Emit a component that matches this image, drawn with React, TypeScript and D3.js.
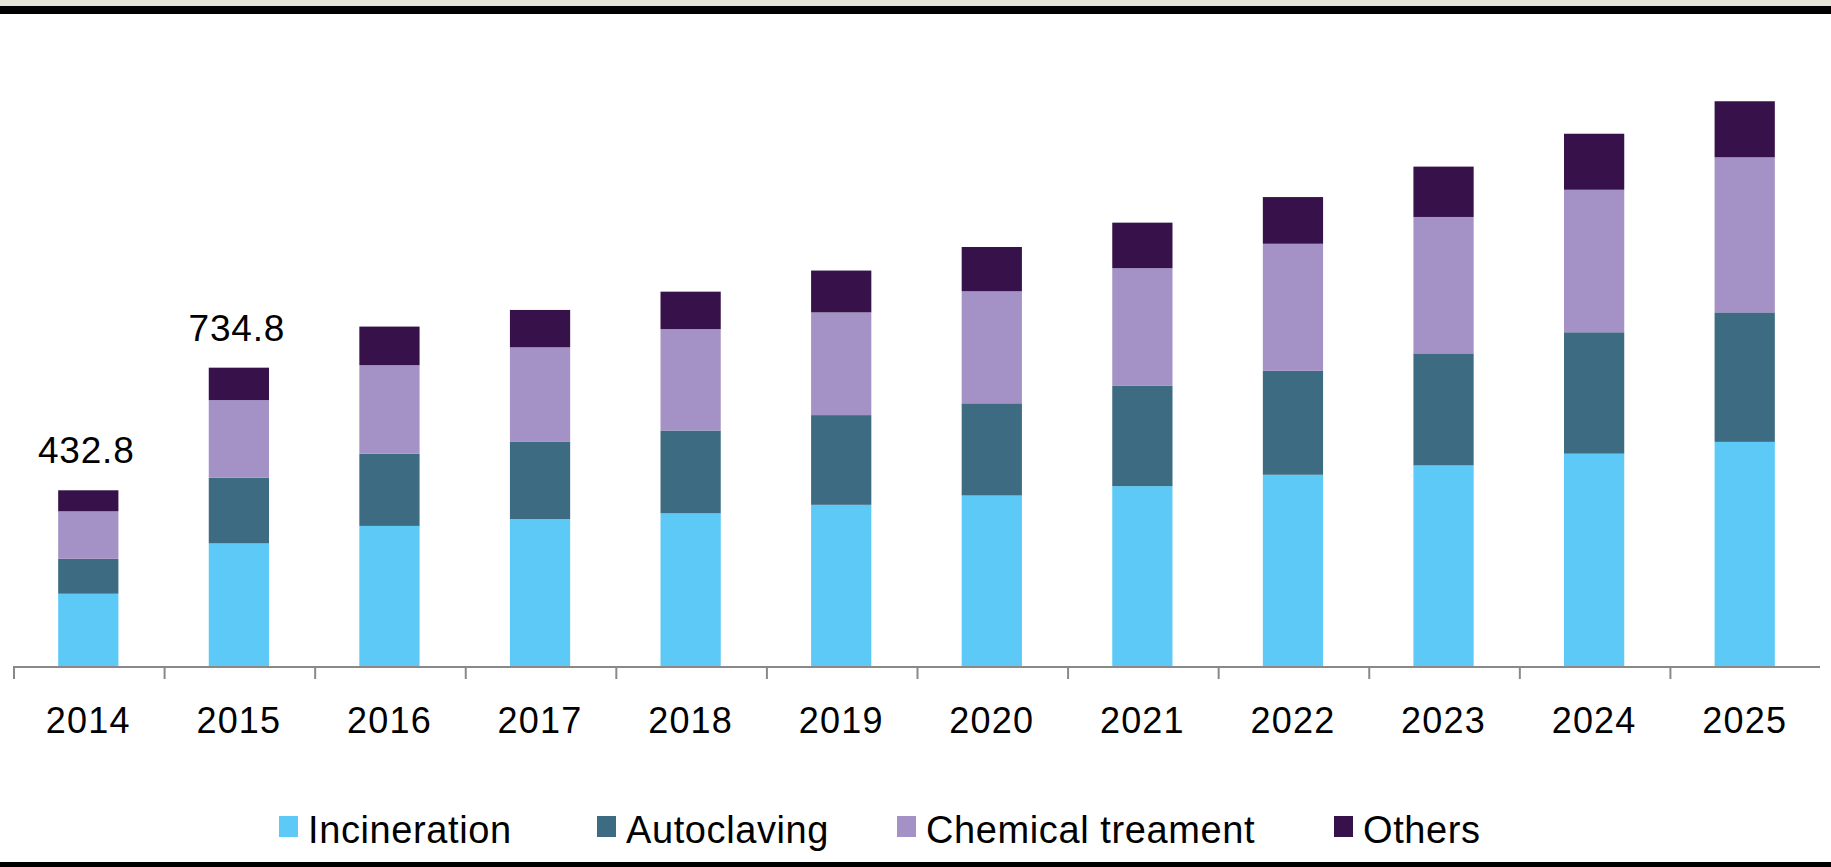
import React, { useEffect, useRef } from 'react'
import * as d3 from 'd3'

const years = ['2014', '2015', '2016', '2017', '2018', '2019', '2020', '2021', '2022', '2023', '2024', '2025']
const seriesNames = ['Incineration', 'Autoclaving', 'Chemical treament', 'Others']
const incineration = [178, 302, 345, 362, 376, 397, 420, 443, 471, 494, 523, 552]
const autoclaving = [86, 162, 178, 190, 204, 221, 227, 247, 256, 276, 299, 319]
const chemical = [117, 191, 218, 233, 250, 253, 276, 290, 313, 336, 351, 382]
const others = [51.8, 79.8, 95, 92, 92, 103, 109, 112, 115, 124, 138, 138]
const labelYears = ['2014', '2015']
const labelTexts = ['432.8', '734.8']

const colors = ['#5dc9f6', '#3d6b82', '#a491c5', '#37114a']

export default function App() {
  const svgRef = useRef<SVGSVGElement>(null)

  useEffect(() => {
    document.body.style.margin = '0'
    const width = 1831
    const height = 867
    const baseline = 666

    const svg = d3.select(svgRef.current)
      .attr('width', width)
      .attr('height', height)
    svg.selectAll('*').remove()

    svg.append('rect').attr('width', width).attr('height', height).attr('fill', '#fff')
    // frame bands
    svg.append('rect').attr('x', 0).attr('y', 0).attr('width', width).attr('height', 6).attr('fill', '#e5e2d6')
    svg.append('rect').attr('x', 0).attr('y', 6).attr('width', width).attr('height', 8).attr('fill', '#000')
    svg.append('rect').attr('x', 0).attr('y', 862).attr('width', width).attr('height', 5).attr('fill', '#000')

    const table = years.map((y, i) => ({
      year: y,
      Incineration: incineration[i],
      Autoclaving: autoclaving[i],
      'Chemical treament': chemical[i],
      Others: others[i],
    }))
    const stacked = d3.stack<any>().keys(seriesNames)(table)

    const xScale = d3.scaleBand().domain(years).range([13, 1820]).padding(0)
    const yScale = d3.scaleLinear().domain([0, 1400]).range([baseline, baseline - 1400 * 0.406])
    const barW = xScale.bandwidth() * 0.4

    svg.append('g')
      .selectAll('g')
      .data(stacked)
      .join('g')
      .attr('fill', (d, i) => colors[i])
      .selectAll('rect')
      .data(d => d)
      .join('rect')
      .attr('x', d => xScale(d.data.year)! + (xScale.bandwidth() - barW) / 2)
      .attr('y', d => yScale(d[1]))
      .attr('width', barW)
      .attr('height', d => yScale(d[0]) - yScale(d[1]))

    // x axis
    const axis = svg.append('g')
    axis.append('line')
      .attr('x1', 13).attr('x2', 1820)
      .attr('y1', baseline + 1).attr('y2', baseline + 1)
      .attr('stroke', '#898989').attr('stroke-width', 2)
    axis.selectAll('line.tick')
      .data(years)
      .join('line')
      .attr('class', 'tick')
      .attr('x1', d => xScale(d)! + 1).attr('x2', d => xScale(d)! + 1)
      .attr('y1', baseline).attr('y2', baseline + 13)
      .attr('stroke', '#898989').attr('stroke-width', 2)
    axis.selectAll('text')
      .data(years)
      .join('text')
      .attr('x', d => xScale(d)! + xScale.bandwidth() / 2)
      .attr('y', 733)
      .attr('text-anchor', 'middle')
      .attr('font-family', '"Liberation Sans", Arial, sans-serif')
      .attr('font-size', 36)
      .attr('letter-spacing', 1.2)
      .attr('fill', '#000')
      .text(d => d)

    // totals above first bars
    svg.selectAll('text.total')
      .data(labelYears)
      .join('text')
      .attr('class', 'total')
      .attr('x', d => xScale(d)! + xScale.bandwidth() / 2 - 2)
      .attr('y', (d) => {
        const i = years.indexOf(d)
        return yScale(stacked[3][i][1]) - 27
      })
      .attr('text-anchor', 'middle')
      .attr('font-family', '"Liberation Sans", Arial, sans-serif')
      .attr('font-size', 37)
      .attr('letter-spacing', 0.8)
      .attr('fill', '#000')
      .text((d, i) => labelTexts[i])

    // legend
    const legendX = [279, 597, 897, 1334]
    const legend = svg.append('g')
      .selectAll('g')
      .data(seriesNames)
      .join('g')
      .attr('transform', (d, i) => `translate(${legendX[i]}, 816)`)
    legend.append('rect')
      .attr('width', 19).attr('height', 21)
      .attr('fill', (d, i) => colors[i])
    legend.append('text')
      .attr('x', 29)
      .attr('y', 27)
      .attr('font-family', '"Liberation Sans", Arial, sans-serif')
      .attr('font-size', 38)
      .attr('letter-spacing', 0.6)
      .attr('fill', '#000')
      .text(d => d)
  }, [])

  return (
    <svg ref={svgRef} style={{ display: 'block' }}></svg>
  )
}
